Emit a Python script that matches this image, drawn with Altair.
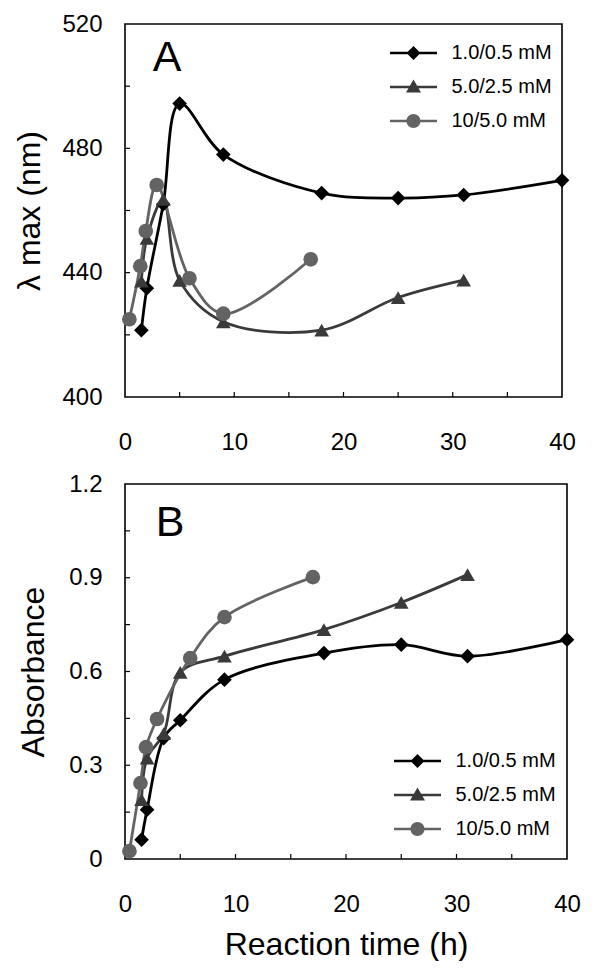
import altair as alt
import pandas as pd

FONT = "Liberation Sans"

series = ["1.0/0.5 mM", "5.0/2.5 mM", "10/5.0 mM"]
colors = ["#000000", "#3a3a3a", "#636363"]
shapes = ["diamond", "triangle-up", "circle"]

# reaction times (h)
t_diamond = [1.5, 2.0, 3.5, 5.0, 9.0, 18.0, 25.0, 31.0, 40.0]
t_triangle = [1.5, 2.0, 3.5, 5.0, 9.0, 18.0, 25.0, 31.0]
t_circle = [0.4, 1.4, 1.9, 2.9, 5.9, 9.0, 17.0]

# panel A: lambda max (nm)
lam_diamond = [421.5, 435.0, 462.0, 494.4, 478.0, 465.6, 464.0, 465.0, 469.7]
lam_triangle = [437.3, 451.0, 463.6, 437.5, 424.2, 421.5, 432.0, 437.6]
lam_circle = [425.0, 442.1, 453.4, 468.2, 438.2, 426.8, 444.3]

# panel B: absorbance
abs_diamond = [0.062, 0.158, 0.387, 0.444, 0.574, 0.659, 0.686, 0.649, 0.702]
abs_triangle = [0.19, 0.323, 0.401, 0.597, 0.649, 0.734, 0.821, 0.91]
abs_circle = [0.025, 0.243, 0.358, 0.448, 0.643, 0.774, 0.902]

x_labels = [0, 10, 20, 30, 40]
x_minor = [5, 10, 15, 20, 25, 30, 35]
a_labels = [400, 440, 480, 520]
a_minor = [420, 440, 460, 480, 500]
b_labels = [0, 0.3, 0.6, 0.9, 1.2]
b_minor = [0.15, 0.3, 0.45, 0.6, 0.75, 0.9, 1.05]

# legend symbols: line segment + marker (unit = 10 px)
bar = "M-2.35,-0.13L2.35,-0.13L2.35,0.13L-2.35,0.13Z"
leg_paths = [
    bar + "M0,-0.7L0.7,0L0,0.7L-0.7,0Z",
    bar + "M0,-0.75L0.75,0.55L-0.75,0.55Z",
    bar + "M-0.7,0A0.7,0.7,0,1,1,0.7,0A0.7,0.7,0,1,1,-0.7,0Z",
]


def make_df(ts, vs):
    rows = []
    for name, t, v in zip(series, ts, vs):
        for a, b in zip(t, v):
            rows.append({"t": a, "v": b, "series": name})
    return pd.DataFrame(rows)


dfA = make_df([t_diamond, t_triangle, t_circle], [lam_diamond, lam_triangle, lam_circle])
dfB = make_df([t_diamond, t_triangle, t_circle], [abs_diamond, abs_triangle, abs_circle])


def panel(df, ydom, yvals, yfmt, ytitle, xtitle, W, H, ticks_y, letter, lxy, legxy, min_ext):
    xs = alt.Scale(domain=[0, 40], nice=False, zero=False)
    ys = alt.Scale(domain=ydom, nice=False, zero=False)
    cs = alt.Scale(domain=series, range=colors)
    xaxis = alt.Axis(values=x_labels, title=xtitle, labelFlush=False, labelPadding=33,
                     titlePadding=13, tickSize=0)
    yaxis = alt.Axis(values=yvals, format=yfmt, title=ytitle, labelPadding=23,
                     titlePadding=15, minExtent=min_ext, tickSize=0)
    x = alt.X("t:Q", scale=xs, axis=xaxis)
    y = alt.Y("v:Q", scale=ys, axis=yaxis)
    base = alt.Chart(df)
    lines = base.mark_line(interpolate="catmull-rom", strokeWidth=2.8).encode(
        x=x, y=y, color=alt.Color("series:N", scale=cs, legend=None),
        detail="series:N")
    pts = base.mark_point(filled=True, opacity=1, size=215, strokeWidth=0).encode(
        x=x, y=y,
        color=alt.Color("series:N", scale=cs, legend=None),
        shape=alt.Shape("series:N", scale=alt.Scale(domain=series, range=shapes), legend=None))
    L = dict(title=None, orient="none", legendX=legxy[0], legendY=legxy[1], symbolSize=400,
             symbolStrokeWidth=0, labelFont=FONT, labelFontSize=20, labelColor="black",
             symbolOffset=13.5, labelOffset=28, rowPadding=14, padding=0, labelLimit=300)
    leg = base.mark_point(filled=True, opacity=1).encode(
        color=alt.Color("series:N", scale=cs, legend=alt.Legend(**L)),
        shape=alt.Shape("series:N", scale=alt.Scale(domain=series, range=leg_paths),
                        legend=alt.Legend(**L))).transform_filter("false")
    xt = alt.Chart(pd.DataFrame({"t": x_minor})).mark_rule(color="black", strokeWidth=1.2).encode(
        x=x, y=alt.value(H), y2=alt.value(H - 5))
    yt = alt.Chart(pd.DataFrame({"v": ticks_y})).mark_rule(color="black", strokeWidth=1.2).encode(
        y=y, x=alt.value(0), x2=alt.value(5))
    let = alt.Chart(pd.DataFrame({"s": [letter]})).mark_text(
        font=FONT, fontSize=43, align="center", baseline="middle", color="black").encode(
        text="s:N", x=alt.value(lxy[0]), y=alt.value(lxy[1]))
    return alt.layer(lines, pts, leg, xt, yt, let).resolve_scale(
        color="independent", shape="independent").properties(width=W, height=H)


A = panel(dfA, [400, 520], a_labels, "d", "λ max (nm)", None, 437, 373, a_minor, "A",
          (42, 34), (265, 19), 62.7)
B = panel(dfB, [0, 1.2], b_labels, ".1~f", "Absorbance", "Reaction time (h)", 442, 375, b_minor, "B",
          (45, 38.5), (269, 267), 59.3)

chart = alt.vconcat(A, B, spacing=16).properties(
    padding={"left": 5, "top": 3, "right": 5, "bottom": 0}
).configure_view(stroke="black", strokeWidth=1.6).configure_axis(
    domain=False, ticks=False, grid=False, labelFont=FONT, labelFontSize=24, labelColor="black",
    titleFont=FONT, titleFontSize=32, titleFontWeight="normal", titleColor="black")

chart.save("out.html", embed_options={"renderer": "svg", "actions": False})
